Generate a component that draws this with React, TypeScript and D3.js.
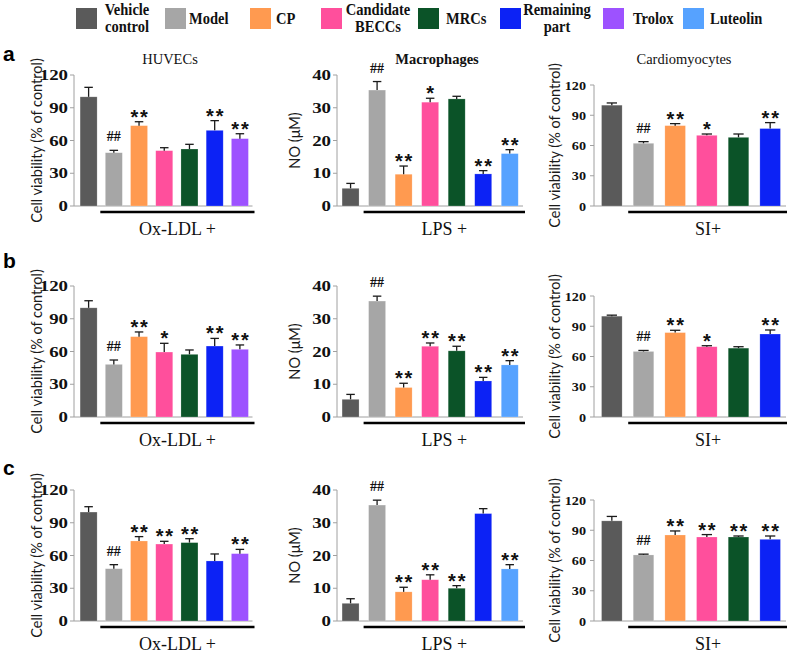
import React from "react";
import * as d3 from "d3";

// ---------- data ----------
const legendItems = ["Vehicle control", "Model", "CP", "Candidate BECCs", "MRCs", "Remaining part", "Trolox", "Luteolin"];
const legendLines = [["Vehicle", "control"], ["Model"], ["CP"], ["Candidate", "BECCs"], ["MRCs"], ["Remaining", "part"], ["Trolox"], ["Luteolin"]];
const barColors = ["#5a5a5a", "#a6a6a6", "#ff9a50", "#ff4f9c", "#0b5328", "#0c22f5", "#9d52ff", "#56a2ff"];

const huvecCats = ["Vehicle control", "Model", "CP", "Candidate BECCs", "MRCs", "Remaining part", "Trolox"];
const macroCats = ["Vehicle control", "Model", "CP", "Candidate BECCs", "MRCs", "Remaining part", "Luteolin"];
const cardioCats = ["Vehicle control", "Model", "CP", "Candidate BECCs", "MRCs", "Remaining part"];

const viabilityTicks = [0, 30, 60, 90, 120];
const noTicks = [0, 10, 20, 30, 40];

const columnTitles = ["HUVECs", "Macrophages", "Cardiomyocytes"];
const columnYLabels = ["Cell viability (% of control)", "NO (\u03bcM)", "Cell viability (% of control)"];
const columnXLabels = ["Ox-LDL +", "LPS +", "SI+"];
const rowLetters = ["a", "b", "c"];

// row a
const huvecA = [100, 48.8, 73.6, 50.7, 52.2, 69.3, 61.7];
const huvecAErr = [8.7, 2.2, 3.6, 2.7, 4.3, 8.9, 4.5];
const huvecAMarks = ["", "##", "**", "", "", "**", "**"];
const macroA = [5.4, 35.4, 9.7, 31.7, 32.7, 9.8, 16.0];
const macroAErr = [1.5, 2.6, 2.5, 1.2, 0.8, 1.0, 1.2];
const macroAMarks = ["", "##", "**", "*", "", "**", "**"];
const cardioA = [100, 62.2, 79.7, 70.1, 68.1, 76.8];
const cardioAErr = [2.2, 1.6, 2.0, 1.3, 3.3, 5.9];
const cardioAMarks = ["", "##", "**", "*", "", "**"];
// row b
const huvecB = [100, 48.2, 73.6, 59.5, 57.4, 65, 62];
const huvecBErr = [6.5, 4, 4.3, 8, 4, 7, 4];
const huvecBMarks = ["", "##", "**", "*", "", "**", "**"];
const macroB = [5.4, 35.4, 9.0, 21.6, 20.2, 11.0, 15.9];
const macroBErr = [1.5, 1.5, 1.3, 1.0, 1.4, 1.1, 1.3];
const macroBMarks = ["", "##", "**", "**", "**", "**", "**"];
const cardioB = [100, 65, 83.7, 69.7, 68.3, 82.3];
const cardioBErr = [1.0, 1.0, 2.3, 1.0, 1.4, 4.0];
const cardioBMarks = ["", "##", "**", "*", "", "**"];
// row c
const huvecC = [99.8, 47.9, 73.3, 70.5, 71.8, 55, 61.7];
const huvecCErr = [4.9, 3.7, 4, 2.5, 3.6, 6.4, 3.9];
const huvecCMarks = ["", "##", "**", "**", "**", "", "**"];
const macroC = [5.4, 35.4, 8.9, 12.6, 10.0, 32.8, 15.9];
const macroCErr = [1.4, 1.5, 1.4, 1.5, 0.8, 1.5, 1.3];
const macroCMarks = ["", "##", "**", "**", "**", "", "**"];
const cardioC = [99.3, 65.5, 85.3, 83.3, 83.3, 81];
const cardioCErr = [4.4, 0.8, 4, 2.4, 1.0, 3.3];
const cardioCMarks = ["", "##", "**", "**", "**", "**"];

// ---------- layout ----------
const W = 787;
const H = 654;
const SERIF = "'Liberation Serif', 'Times New Roman', serif";
const SANS = "'Liberation Sans', Arial, sans-serif";
const HUMAN = "Lato, 'Open Sans', sans-serif";
const AXIS_GRAY = "#a0a0a0";

const rowBases = [206, 417, 621];
const cols = [
  { axisX: 74, r0: 76, r1: 252.5, pad: 0.325, height: 131, max: 120, ylabX: 37, titleX: 170, tickSx: 1.3, tickFs: 14.5, tickDx: 6, titleBold: false },
  { axisX: 337, r0: 337.3, r1: 523, pad: 0.36, height: 131, max: 40, ylabX: 295, titleX: 437, tickSx: 1.3, tickFs: 14.5, tickDx: 6, titleBold: true },
  { axisX: 594, r0: 596, r1: 786, pad: 0.35, height: 121, max: 120, ylabX: 555, titleX: 684, tickSx: 1.05, tickFs: 13.5, tickDx: 8, titleBold: false },
];

type PanelProps = {
  col: number;
  row: number;
  cats: string[];
  values: number[];
  errors: number[];
  marks: string[];
  ticks: number[];
};

function Panel({ col, row, cats, values, errors, marks, ticks }: PanelProps) {
  const c = cols[col];
  const base = rowBases[row];
  const x = d3.scaleBand<string>().domain(cats).range([c.r0, c.r1]).paddingInner(c.pad).paddingOuter(c.pad / 2);
  const y = d3.scaleLinear().domain([0, c.max]).range([base, base - c.height]);
  const bw = x.bandwidth();
  const lineStart = (x(cats[1]) as number) - 5;
  const lineEnd = c.r1 + 2;
  return (
    <g>
      {/* y axis */}
      <line x1={c.axisX} x2={c.axisX} y1={y(0)} y2={y(c.max)} stroke={AXIS_GRAY} strokeWidth={1} />
      {ticks.map((t) => (
        <g key={t}>
          <line x1={c.axisX - 4} x2={c.axisX} y1={y(t)} y2={y(t)} stroke={AXIS_GRAY} strokeWidth={1} />
          <g transform={`translate(${c.axisX - c.tickDx},${y(t)}) scale(${c.tickSx},1)`}>
            <text x={0} y={0} dy="0.35em" textAnchor="end" fontFamily={SERIF} fontWeight="bold" fontSize={c.tickFs} fill="#111">
              {t}
            </text>
          </g>
        </g>
      ))}
      {/* x axis */}
      <line x1={c.axisX} x2={c.r1} y1={y(0)} y2={y(0)} stroke={AXIS_GRAY} strokeWidth={1} />
      {/* bars */}
      {cats.map((cat, i) => {
        const bx = x(cat) as number;
        const ci = legendItems.indexOf(cat);
        const cx = bx + bw / 2;
        const top = y(values[i]);
        const et = y(values[i] + errors[i]);
        const cap = bw * 0.5;
        return (
          <g key={cat}>
            <rect x={bx} y={top} width={bw} height={y(0) - top} fill={barColors[ci]} stroke="#ffffff" strokeOpacity={0.35} strokeWidth={0.6} />
            <line x1={cx} x2={cx} y1={top} y2={et} stroke="#1a1a1a" strokeWidth={1.3} />
            <line x1={cx - cap / 2} x2={cx + cap / 2} y1={et} y2={et} stroke="#1a1a1a" strokeWidth={1.3} />
            {marks[i] === "##" ? (
              <text x={cx} y={et - 9} textAnchor="middle" fontFamily={SERIF} fontWeight="bold" fontSize={14} fill="#111">
                ##
              </text>
            ) : marks[i] ? (
              <text x={cx + 1} y={et + 2} textAnchor="middle" fontFamily={SANS} fontWeight="bold" fontSize={20} letterSpacing={1.8} fill="#111">
                {marks[i]}
              </text>
            ) : null}
          </g>
        );
      })}
      {/* treatment underline and label */}
      <line x1={lineStart} x2={lineEnd} y1={base + 6} y2={base + 6} stroke="#000" strokeWidth={2.6} />
      <text x={(lineStart + lineEnd) / 2} y={base + 29} textAnchor="middle" fontFamily={SERIF} fontSize={18} fill="#111">
        {columnXLabels[col]}
      </text>
      {/* y label */}
      <text
        transform={`translate(${c.ylabX},${base - c.height / 2}) rotate(-90)`}
        textAnchor="middle"
        dy="0.35em"
        fontFamily={HUMAN}
        fontSize={14.5}
        fill="#1a1a1a"
      >
        {columnYLabels[col]}
      </text>
      {row === 0 ? (
        <text x={c.titleX} y={64} textAnchor="middle" fontFamily={SERIF} fontSize={14.5} fontWeight={c.titleBold ? "bold" : "normal"} fill="#111">
          {columnTitles[col]}
        </text>
      ) : null}
    </g>
  );
}

const legendSwatchX = [76, 165, 250, 321, 418, 500, 603, 683];
const legendTextX = [127, 189, 276, 378, 446, 557, 633, 710];

function Legend() {
  return (
    <g>
      {legendItems.map((name, i) => {
        const lines = legendLines[i];
        const two = lines.length > 1;
        return (
          <g key={name}>
            <rect x={legendSwatchX[i]} y={8} width={21} height={21} fill={barColors[i]} />
            {lines.map((ln, j) => (
              <g key={ln} transform={`translate(${legendTextX[i]},${two ? 9 + j * 17 : 18.5}) scale(0.88,1)`}>
                <text x={0} y={0} dy="0.35em" textAnchor={two ? "middle" : "start"} fontFamily={SERIF} fontWeight="bold" fontSize={16.5} fill="#111">
                  {ln}
                </text>
              </g>
            ))}
          </g>
        );
      })}
    </g>
  );
}

const rowLetterY = [61, 268, 475];

export default function App() {
  return (
    <svg width={W} height={H} style={{ position: "absolute", left: 0, top: 0, background: "#fff" }}>
      <rect x={0} y={0} width={W} height={H} fill="#fff" />
      <Legend />
      {rowLetters.map((l, i) => (
        <text key={l} x={3} y={rowLetterY[i]} fontFamily={SANS} fontWeight="bold" fontSize={21} fill="#000">
          {l}
        </text>
      ))}
      <Panel col={0} row={0} cats={huvecCats} values={huvecA} errors={huvecAErr} marks={huvecAMarks} ticks={viabilityTicks} />
      <Panel col={1} row={0} cats={macroCats} values={macroA} errors={macroAErr} marks={macroAMarks} ticks={noTicks} />
      <Panel col={2} row={0} cats={cardioCats} values={cardioA} errors={cardioAErr} marks={cardioAMarks} ticks={viabilityTicks} />
      <Panel col={0} row={1} cats={huvecCats} values={huvecB} errors={huvecBErr} marks={huvecBMarks} ticks={viabilityTicks} />
      <Panel col={1} row={1} cats={macroCats} values={macroB} errors={macroBErr} marks={macroBMarks} ticks={noTicks} />
      <Panel col={2} row={1} cats={cardioCats} values={cardioB} errors={cardioBErr} marks={cardioBMarks} ticks={viabilityTicks} />
      <Panel col={0} row={2} cats={huvecCats} values={huvecC} errors={huvecCErr} marks={huvecCMarks} ticks={viabilityTicks} />
      <Panel col={1} row={2} cats={macroCats} values={macroC} errors={macroCErr} marks={macroCMarks} ticks={noTicks} />
      <Panel col={2} row={2} cats={cardioCats} values={cardioC} errors={cardioCErr} marks={cardioCMarks} ticks={viabilityTicks} />
    </svg>
  );
}
